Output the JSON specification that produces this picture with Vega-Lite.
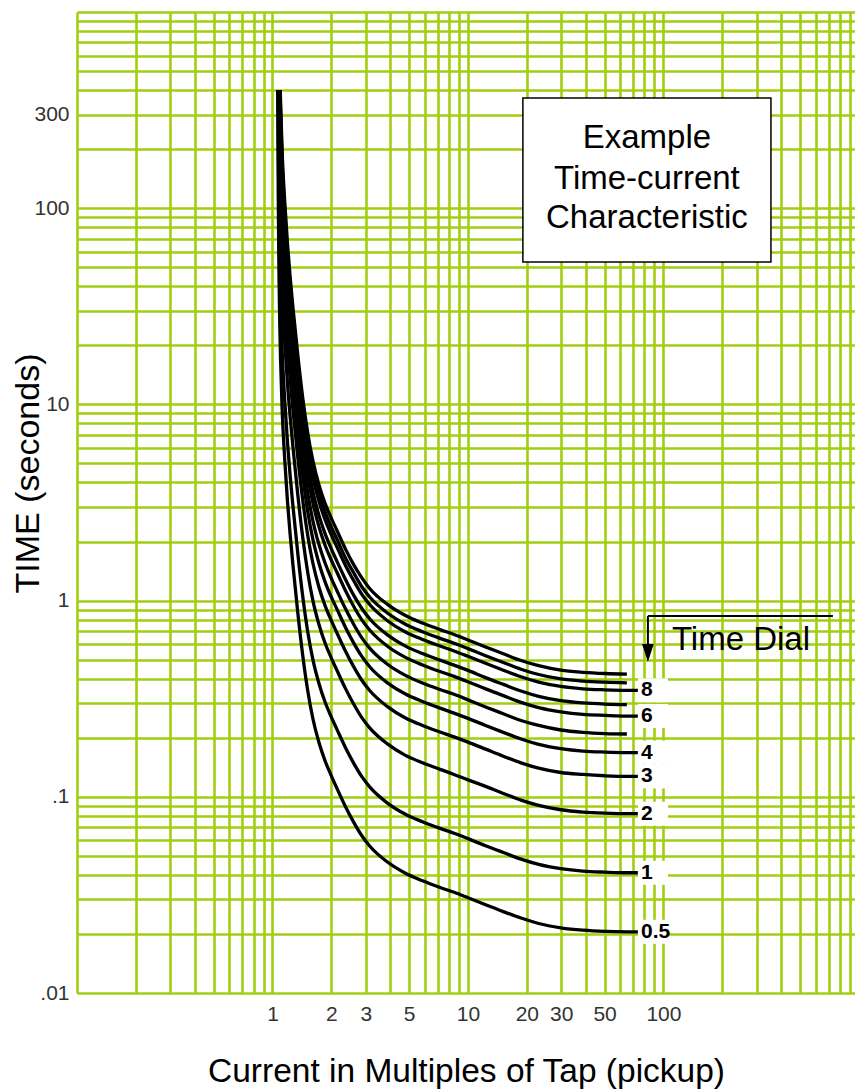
{
  "$schema": "https://vega.github.io/schema/vega-lite/v6.json",
  "width": 778,
  "height": 981,
  "autosize": {"type": "none"},
  "padding": {"left": 77, "top": 12, "right": 0, "bottom": 96},
  "background": "white",
  "config": {"view": {"stroke": null}, "font": "Liberation Sans"},
  "datasets": {
    "curves": [
      {"dial":"0.5","M":1.0643,"t":400},{"dial":"0.5","M":1.07,"t":121.5},{"dial":"0.5","M":1.08,"t":45.4},{"dial":"0.5","M":1.09,"t":25.6},{"dial":"0.5","M":1.1,"t":17.0},{"dial":"0.5","M":1.12,"t":9.55},{"dial":"0.5","M":1.156,"t":5.18},{"dial":"0.5","M":1.193,"t":3.21},{"dial":"0.5","M":1.231,"t":2.18},{"dial":"0.5","M":1.27,"t":1.55},{"dial":"0.5","M":1.348,"t":0.863},{"dial":"0.5","M":1.43,"t":0.52},{"dial":"0.5","M":1.517,"t":0.344},{"dial":"0.5","M":1.61,"t":0.25},{"dial":"0.5","M":1.729,"t":0.189},{"dial":"0.5","M":1.856,"t":0.153},{"dial":"0.5","M":1.993,"t":0.129},{"dial":"0.5","M":2.14,"t":0.11},{"dial":"0.5","M":2.357,"t":0.0895},{"dial":"0.5","M":2.597,"t":0.0745},{"dial":"0.5","M":2.859,"t":0.0635},{"dial":"0.5","M":3.15,"t":0.056},{"dial":"0.5","M":3.874,"t":0.0465},{"dial":"0.5","M":4.763,"t":0.0409},{"dial":"0.5","M":5.855,"t":0.0373},{"dial":"0.5","M":7.2,"t":0.0345},{"dial":"0.5","M":8.485,"t":0.0326},{"dial":"0.5","M":10,"t":0.0306},{"dial":"0.5","M":12.31,"t":0.0282},{"dial":"0.5","M":15.17,"t":0.026},{"dial":"0.5","M":18.68,"t":0.0241},{"dial":"0.5","M":23,"t":0.0226},{"dial":"0.5","M":29.85,"t":0.0215},{"dial":"0.5","M":38.7,"t":0.0209},{"dial":"0.5","M":50.15,"t":0.0206},{"dial":"0.5","M":65,"t":0.0205},{"dial":"0.5","M":74,"t":0.0205},
      {"dial":"1","M":1.067,"t":400},{"dial":"1","M":1.07,"t":243},{"dial":"1","M":1.08,"t":90.7},{"dial":"1","M":1.09,"t":51.1},{"dial":"1","M":1.1,"t":33.9},{"dial":"1","M":1.12,"t":19.1},{"dial":"1","M":1.156,"t":10.4},{"dial":"1","M":1.193,"t":6.42},{"dial":"1","M":1.231,"t":4.35},{"dial":"1","M":1.27,"t":3.1},{"dial":"1","M":1.348,"t":1.73},{"dial":"1","M":1.43,"t":1.04},{"dial":"1","M":1.517,"t":0.688},{"dial":"1","M":1.61,"t":0.5},{"dial":"1","M":1.729,"t":0.378},{"dial":"1","M":1.856,"t":0.305},{"dial":"1","M":1.993,"t":0.257},{"dial":"1","M":2.14,"t":0.22},{"dial":"1","M":2.357,"t":0.179},{"dial":"1","M":2.597,"t":0.149},{"dial":"1","M":2.859,"t":0.127},{"dial":"1","M":3.15,"t":0.112},{"dial":"1","M":3.874,"t":0.0929},{"dial":"1","M":4.763,"t":0.0817},{"dial":"1","M":5.855,"t":0.0746},{"dial":"1","M":7.2,"t":0.069},{"dial":"1","M":8.485,"t":0.0652},{"dial":"1","M":10,"t":0.0612},{"dial":"1","M":12.31,"t":0.0563},{"dial":"1","M":15.17,"t":0.052},{"dial":"1","M":18.68,"t":0.0481},{"dial":"1","M":23,"t":0.0452},{"dial":"1","M":29.85,"t":0.043},{"dial":"1","M":38.7,"t":0.0418},{"dial":"1","M":50.15,"t":0.0413},{"dial":"1","M":65,"t":0.041},{"dial":"1","M":74,"t":0.041},
      {"dial":"2","M":1.0715,"t":400},{"dial":"2","M":1.08,"t":181},{"dial":"2","M":1.09,"t":102},{"dial":"2","M":1.1,"t":67.8},{"dial":"2","M":1.12,"t":38.2},{"dial":"2","M":1.156,"t":20.7},{"dial":"2","M":1.193,"t":12.8},{"dial":"2","M":1.231,"t":8.7},{"dial":"2","M":1.27,"t":6.2},{"dial":"2","M":1.348,"t":3.45},{"dial":"2","M":1.43,"t":2.08},{"dial":"2","M":1.517,"t":1.38},{"dial":"2","M":1.61,"t":1.0},{"dial":"2","M":1.729,"t":0.756},{"dial":"2","M":1.856,"t":0.61},{"dial":"2","M":1.993,"t":0.514},{"dial":"2","M":2.14,"t":0.44},{"dial":"2","M":2.357,"t":0.358},{"dial":"2","M":2.597,"t":0.298},{"dial":"2","M":2.859,"t":0.254},{"dial":"2","M":3.15,"t":0.224},{"dial":"2","M":3.874,"t":0.186},{"dial":"2","M":4.763,"t":0.163},{"dial":"2","M":5.855,"t":0.149},{"dial":"2","M":7.2,"t":0.138},{"dial":"2","M":8.485,"t":0.13},{"dial":"2","M":10,"t":0.122},{"dial":"2","M":12.31,"t":0.113},{"dial":"2","M":15.17,"t":0.104},{"dial":"2","M":18.68,"t":0.0962},{"dial":"2","M":23,"t":0.0904},{"dial":"2","M":29.85,"t":0.0859},{"dial":"2","M":38.7,"t":0.0836},{"dial":"2","M":50.15,"t":0.0825},{"dial":"2","M":65,"t":0.082},{"dial":"2","M":74,"t":0.082},
      {"dial":"3","M":1.0756,"t":400},{"dial":"3","M":1.08,"t":281},{"dial":"3","M":1.09,"t":158},{"dial":"3","M":1.1,"t":105},{"dial":"3","M":1.12,"t":59.2},{"dial":"3","M":1.156,"t":32.1},{"dial":"3","M":1.193,"t":19.9},{"dial":"3","M":1.231,"t":13.5},{"dial":"3","M":1.27,"t":9.61},{"dial":"3","M":1.348,"t":5.35},{"dial":"3","M":1.43,"t":3.22},{"dial":"3","M":1.517,"t":2.13},{"dial":"3","M":1.61,"t":1.55},{"dial":"3","M":1.729,"t":1.17},{"dial":"3","M":1.856,"t":0.946},{"dial":"3","M":1.993,"t":0.797},{"dial":"3","M":2.14,"t":0.682},{"dial":"3","M":2.357,"t":0.555},{"dial":"3","M":2.597,"t":0.462},{"dial":"3","M":2.859,"t":0.394},{"dial":"3","M":3.15,"t":0.347},{"dial":"3","M":3.874,"t":0.288},{"dial":"3","M":4.763,"t":0.253},{"dial":"3","M":5.855,"t":0.231},{"dial":"3","M":7.2,"t":0.214},{"dial":"3","M":8.485,"t":0.202},{"dial":"3","M":10,"t":0.19},{"dial":"3","M":12.31,"t":0.175},{"dial":"3","M":15.17,"t":0.161},{"dial":"3","M":18.68,"t":0.149},{"dial":"3","M":23,"t":0.14},{"dial":"3","M":29.85,"t":0.133},{"dial":"3","M":38.7,"t":0.13},{"dial":"3","M":50.15,"t":0.128},{"dial":"3","M":65,"t":0.127},{"dial":"3","M":74,"t":0.127},
      {"dial":"4","M":1.079,"t":400},{"dial":"4","M":1.08,"t":372},{"dial":"4","M":1.09,"t":210},{"dial":"4","M":1.1,"t":139},{"dial":"4","M":1.12,"t":78.3},{"dial":"4","M":1.156,"t":42.5},{"dial":"4","M":1.193,"t":26.3},{"dial":"4","M":1.231,"t":17.8},{"dial":"4","M":1.27,"t":12.7},{"dial":"4","M":1.348,"t":7.07},{"dial":"4","M":1.43,"t":4.26},{"dial":"4","M":1.517,"t":2.82},{"dial":"4","M":1.61,"t":2.05},{"dial":"4","M":1.729,"t":1.55},{"dial":"4","M":1.856,"t":1.25},{"dial":"4","M":1.993,"t":1.05},{"dial":"4","M":2.14,"t":0.902},{"dial":"4","M":2.357,"t":0.734},{"dial":"4","M":2.597,"t":0.611},{"dial":"4","M":2.859,"t":0.521},{"dial":"4","M":3.15,"t":0.459},{"dial":"4","M":3.874,"t":0.381},{"dial":"4","M":4.763,"t":0.335},{"dial":"4","M":5.855,"t":0.306},{"dial":"4","M":7.2,"t":0.283},{"dial":"4","M":8.485,"t":0.267},{"dial":"4","M":10,"t":0.251},{"dial":"4","M":12.31,"t":0.231},{"dial":"4","M":15.17,"t":0.213},{"dial":"4","M":18.68,"t":0.197},{"dial":"4","M":23,"t":0.185},{"dial":"4","M":29.85,"t":0.176},{"dial":"4","M":38.7,"t":0.171},{"dial":"4","M":50.15,"t":0.169},{"dial":"4","M":65,"t":0.168},{"dial":"4","M":74,"t":0.168},
      {"dial":"5","M":1.0822,"t":400},{"dial":"5","M":1.09,"t":261},{"dial":"5","M":1.1,"t":173},{"dial":"5","M":1.12,"t":97.4},{"dial":"5","M":1.156,"t":52.8},{"dial":"5","M":1.193,"t":32.7},{"dial":"5","M":1.231,"t":22.2},{"dial":"5","M":1.27,"t":15.8},{"dial":"5","M":1.348,"t":8.8},{"dial":"5","M":1.43,"t":5.3},{"dial":"5","M":1.517,"t":3.51},{"dial":"5","M":1.61,"t":2.55},{"dial":"5","M":1.729,"t":1.93},{"dial":"5","M":1.856,"t":1.56},{"dial":"5","M":1.993,"t":1.31},{"dial":"5","M":2.14,"t":1.12},{"dial":"5","M":2.357,"t":0.913},{"dial":"5","M":2.597,"t":0.76},{"dial":"5","M":2.859,"t":0.648},{"dial":"5","M":3.15,"t":0.571},{"dial":"5","M":3.874,"t":0.474},{"dial":"5","M":4.763,"t":0.417},{"dial":"5","M":5.855,"t":0.38},{"dial":"5","M":7.2,"t":0.352},{"dial":"5","M":8.485,"t":0.333},{"dial":"5","M":10,"t":0.312},{"dial":"5","M":12.31,"t":0.287},{"dial":"5","M":15.17,"t":0.265},{"dial":"5","M":18.68,"t":0.245},{"dial":"5","M":23,"t":0.231},{"dial":"5","M":29.85,"t":0.219},{"dial":"5","M":38.7,"t":0.213},{"dial":"5","M":50.15,"t":0.21},{"dial":"5","M":65,"t":0.209},
      {"dial":"6","M":1.0858,"t":400},{"dial":"6","M":1.09,"t":322},{"dial":"6","M":1.1,"t":214},{"dial":"6","M":1.12,"t":120},{"dial":"6","M":1.156,"t":65.3},{"dial":"6","M":1.193,"t":40.4},{"dial":"6","M":1.231,"t":27.4},{"dial":"6","M":1.27,"t":19.5},{"dial":"6","M":1.348,"t":10.9},{"dial":"6","M":1.43,"t":6.55},{"dial":"6","M":1.517,"t":4.33},{"dial":"6","M":1.61,"t":3.15},{"dial":"6","M":1.729,"t":2.38},{"dial":"6","M":1.856,"t":1.92},{"dial":"6","M":1.993,"t":1.62},{"dial":"6","M":2.14,"t":1.39},{"dial":"6","M":2.357,"t":1.13},{"dial":"6","M":2.597,"t":0.939},{"dial":"6","M":2.859,"t":0.8},{"dial":"6","M":3.15,"t":0.706},{"dial":"6","M":3.874,"t":0.585},{"dial":"6","M":4.763,"t":0.515},{"dial":"6","M":5.855,"t":0.47},{"dial":"6","M":7.2,"t":0.435},{"dial":"6","M":8.485,"t":0.411},{"dial":"6","M":10,"t":0.386},{"dial":"6","M":12.31,"t":0.355},{"dial":"6","M":15.17,"t":0.328},{"dial":"6","M":18.68,"t":0.303},{"dial":"6","M":23,"t":0.285},{"dial":"6","M":29.85,"t":0.271},{"dial":"6","M":38.7,"t":0.263},{"dial":"6","M":50.15,"t":0.26},{"dial":"6","M":65,"t":0.258},{"dial":"6","M":74,"t":0.258},
      {"dial":"7","M":1.0883,"t":400},{"dial":"7","M":1.09,"t":368},{"dial":"7","M":1.1,"t":244},{"dial":"7","M":1.12,"t":138},{"dial":"7","M":1.156,"t":74.6},{"dial":"7","M":1.193,"t":46.2},{"dial":"7","M":1.231,"t":31.3},{"dial":"7","M":1.27,"t":22.3},{"dial":"7","M":1.348,"t":12.4},{"dial":"7","M":1.43,"t":7.49},{"dial":"7","M":1.517,"t":4.95},{"dial":"7","M":1.61,"t":3.6},{"dial":"7","M":1.729,"t":2.72},{"dial":"7","M":1.856,"t":2.2},{"dial":"7","M":1.993,"t":1.85},{"dial":"7","M":2.14,"t":1.58},{"dial":"7","M":2.357,"t":1.29},{"dial":"7","M":2.597,"t":1.07},{"dial":"7","M":2.859,"t":0.914},{"dial":"7","M":3.15,"t":0.806},{"dial":"7","M":3.874,"t":0.669},{"dial":"7","M":4.763,"t":0.588},{"dial":"7","M":5.855,"t":0.537},{"dial":"7","M":7.2,"t":0.497},{"dial":"7","M":8.485,"t":0.469},{"dial":"7","M":10,"t":0.441},{"dial":"7","M":12.31,"t":0.405},{"dial":"7","M":15.17,"t":0.374},{"dial":"7","M":18.68,"t":0.346},{"dial":"7","M":23,"t":0.325},{"dial":"7","M":29.85,"t":0.309},{"dial":"7","M":38.7,"t":0.301},{"dial":"7","M":50.15,"t":0.297},{"dial":"7","M":65,"t":0.295},
      {"dial":"8","M":1.0918,"t":400},{"dial":"8","M":1.1,"t":288},{"dial":"8","M":1.12,"t":162},{"dial":"8","M":1.156,"t":88.1},{"dial":"8","M":1.193,"t":54.6},{"dial":"8","M":1.231,"t":37.0},{"dial":"8","M":1.27,"t":26.4},{"dial":"8","M":1.348,"t":14.7},{"dial":"8","M":1.43,"t":8.84},{"dial":"8","M":1.517,"t":5.85},{"dial":"8","M":1.61,"t":4.25},{"dial":"8","M":1.729,"t":3.21},{"dial":"8","M":1.856,"t":2.59},{"dial":"8","M":1.993,"t":2.18},{"dial":"8","M":2.14,"t":1.87},{"dial":"8","M":2.357,"t":1.52},{"dial":"8","M":2.597,"t":1.27},{"dial":"8","M":2.859,"t":1.08},{"dial":"8","M":3.15,"t":0.952},{"dial":"8","M":3.874,"t":0.79},{"dial":"8","M":4.763,"t":0.694},{"dial":"8","M":5.855,"t":0.634},{"dial":"8","M":7.2,"t":0.587},{"dial":"8","M":8.485,"t":0.554},{"dial":"8","M":10,"t":0.52},{"dial":"8","M":12.31,"t":0.479},{"dial":"8","M":15.17,"t":0.442},{"dial":"8","M":18.68,"t":0.409},{"dial":"8","M":23,"t":0.384},{"dial":"8","M":29.85,"t":0.365},{"dial":"8","M":38.7,"t":0.355},{"dial":"8","M":50.15,"t":0.351},{"dial":"8","M":65,"t":0.349},{"dial":"8","M":74,"t":0.349},
      {"dial":"9","M":1.0939,"t":400},{"dial":"9","M":1.1,"t":315},{"dial":"9","M":1.12,"t":178},{"dial":"9","M":1.156,"t":96.3},{"dial":"9","M":1.193,"t":59.7},{"dial":"9","M":1.231,"t":40.5},{"dial":"9","M":1.27,"t":28.8},{"dial":"9","M":1.348,"t":16.0},{"dial":"9","M":1.43,"t":9.67},{"dial":"9","M":1.517,"t":6.4},{"dial":"9","M":1.61,"t":4.65},{"dial":"9","M":1.729,"t":3.52},{"dial":"9","M":1.856,"t":2.84},{"dial":"9","M":1.993,"t":2.39},{"dial":"9","M":2.14,"t":2.05},{"dial":"9","M":2.357,"t":1.66},{"dial":"9","M":2.597,"t":1.39},{"dial":"9","M":2.859,"t":1.18},{"dial":"9","M":3.15,"t":1.04},{"dial":"9","M":3.874,"t":0.864},{"dial":"9","M":4.763,"t":0.76},{"dial":"9","M":5.855,"t":0.694},{"dial":"9","M":7.2,"t":0.642},{"dial":"9","M":8.485,"t":0.606},{"dial":"9","M":10,"t":0.569},{"dial":"9","M":12.31,"t":0.524},{"dial":"9","M":15.17,"t":0.484},{"dial":"9","M":18.68,"t":0.447},{"dial":"9","M":23,"t":0.42},{"dial":"9","M":29.85,"t":0.399},{"dial":"9","M":38.7,"t":0.389},{"dial":"9","M":50.15,"t":0.384},{"dial":"9","M":65,"t":0.381},
      {"dial":"10","M":1.0964,"t":400},{"dial":"10","M":1.1,"t":349},{"dial":"10","M":1.12,"t":197},{"dial":"10","M":1.156,"t":107},{"dial":"10","M":1.193,"t":66.1},{"dial":"10","M":1.231,"t":44.8},{"dial":"10","M":1.27,"t":31.9},{"dial":"10","M":1.348,"t":17.8},{"dial":"10","M":1.43,"t":10.7},{"dial":"10","M":1.517,"t":7.09},{"dial":"10","M":1.61,"t":5.15},{"dial":"10","M":1.729,"t":3.89},{"dial":"10","M":1.856,"t":3.14},{"dial":"10","M":1.993,"t":2.65},{"dial":"10","M":2.14,"t":2.27},{"dial":"10","M":2.357,"t":1.84},{"dial":"10","M":2.597,"t":1.53},{"dial":"10","M":2.859,"t":1.31},{"dial":"10","M":3.15,"t":1.15},{"dial":"10","M":3.874,"t":0.957},{"dial":"10","M":4.763,"t":0.842},{"dial":"10","M":5.855,"t":0.768},{"dial":"10","M":7.2,"t":0.711},{"dial":"10","M":8.485,"t":0.672},{"dial":"10","M":10,"t":0.63},{"dial":"10","M":12.31,"t":0.58},{"dial":"10","M":15.17,"t":0.536},{"dial":"10","M":18.68,"t":0.495},{"dial":"10","M":23,"t":0.466},{"dial":"10","M":29.85,"t":0.442},{"dial":"10","M":38.7,"t":0.431},{"dial":"10","M":50.15,"t":0.425},{"dial":"10","M":65,"t":0.422}
    ],
    "labels": [
      {"dial":"8","t":0.349},{"dial":"6","t":0.258},{"dial":"4","t":0.168},{"dial":"3","t":0.127},{"dial":"2","t":0.082},{"dial":"1","t":0.041},{"dial":"0.5","t":0.0205}
    ],
    "boxtext": [
      {"line":"Example","t":201.7},{"line":"Time-current","t":125},{"line":"Characteristic","t":79.1}
    ]
  },
  "layer": [
    {
      "data": {"name": "curves"},
      "mark": {"type": "line", "color": "black", "strokeWidth": 3.3, "interpolate": "monotone", "clip": true},
      "encoding": {
        "x": {
          "field": "M", "type": "quantitative",
          "scale": {"type": "log", "domain": [0.1, 955], "nice": false},
          "axis": {
            "title": "Current in Multiples of Tap (pickup)",
            "values": [0.1,0.2,0.3,0.4,0.5,0.6,0.7,0.8,0.9,1,2,3,4,5,6,7,8,9,10,20,30,40,50,60,70,80,90,100,200,300,400,500,600,700,800,900],
            "format": "~g",
            "labelExpr": "indexof([1,2,3,5,10,20,30,50,100], datum.value) >= 0 ? datum.label : ''",
            "grid": true, "gridColor": "#a0ce10", "gridWidth": 2.6, "gridOpacity": 1,
            "ticks": false, "tickSize": 0, "domain": false,
            "labelFont": "Liberation Sans", "labelFontSize": 21, "labelColor": "#333", "labelPadding": 10,
            "labelOverlap": false, "labelFlush": false, "labelBound": false,
            "titleFont": "Liberation Sans", "titleFontSize": 33.5, "titleFontWeight": "normal", "titleColor": "black",
            "titleBaseline": "alphabetic", "titleY": 88
          }
        },
        "y": {
          "field": "t", "type": "quantitative",
          "scale": {"type": "log", "domain": [0.01, 1000], "nice": false},
          "axis": {
            "title": "TIME (seconds)",
            "values": [0.01,0.02,0.03,0.04,0.05,0.06,0.07,0.08,0.09,0.1,0.2,0.3,0.4,0.5,0.6,0.7,0.8,0.9,1,2,3,4,5,6,7,8,9,10,20,30,40,50,60,70,80,90,100,200,300,400,500,600,700,800,900,1000],
            "format": "~g",
            "labelExpr": "datum.value == 0.1 ? '.1' : datum.value == 0.01 ? '.01' : (indexof([1,10,100,300], datum.value) >= 0 ? datum.label : '')",
            "grid": true, "gridColor": "#a0ce10", "gridWidth": 2.6, "gridOpacity": 1,
            "ticks": false, "tickSize": 0, "domain": false,
            "labelFont": "Liberation Sans", "labelFontSize": 21, "labelColor": "#333", "labelPadding": 8,
            "labelOverlap": false, "labelFlush": false, "labelBound": false,
            "titleFont": "Liberation Sans", "titleFontSize": 34, "titleFontWeight": "normal", "titleColor": "black",
            "titleAngle": 270, "titleBaseline": "middle", "titleAlign": "center", "titleX": -49, "titleY": 461
          }
        },
        "detail": {"field": "dial"}
      }
    },
    {
      "data": {"name": "labels"},
      "mark": {"type": "point", "shape": "M-1.25,-1L1.25,-1L1.25,1L-1.25,1Z", "size": 576, "filled": true, "color": "white", "opacity": 1},
      "encoding": {
        "x": {"datum": 88.4},
        "y": {"field": "t", "type": "quantitative"}
      }
    },
    {
      "data": {"name": "labels"},
      "mark": {"type": "text", "align": "left", "baseline": "middle", "fontSize": 21, "fontWeight": "bold", "color": "black", "font": "Liberation Sans"},
      "encoding": {
        "x": {"datum": 76.8},
        "y": {"field": "t", "type": "quantitative"},
        "text": {"field": "dial"}
      }
    },
    {
      "data": {"values": [{}]},
      "mark": {"type": "rect", "fill": "white", "stroke": "black", "strokeWidth": 1.5},
      "encoding": {
        "x": {"datum": 19.1}, "x2": {"datum": 354.8},
        "y": {"datum": 364.6}, "y2": {"datum": 53.2}
      }
    },
    {
      "data": {"name": "boxtext"},
      "mark": {"type": "text", "align": "center", "baseline": "alphabetic", "fontSize": 33, "color": "black", "font": "Liberation Sans"},
      "encoding": {
        "x": {"datum": 82.3},
        "y": {"field": "t", "type": "quantitative"},
        "text": {"field": "line"}
      }
    },
    {
      "data": {"values": [{}]},
      "mark": {"type": "rule", "color": "black", "strokeWidth": 2},
      "encoding": {
        "x": {"datum": 83.3}, "x2": {"datum": 736},
        "y": {"datum": 0.835}
      }
    },
    {
      "data": {"values": [{}]},
      "mark": {"type": "rule", "color": "black", "strokeWidth": 2},
      "encoding": {
        "x": {"datum": 83.3},
        "y": {"datum": 0.835}, "y2": {"datum": 0.56}
      }
    },
    {
      "data": {"values": [{}]},
      "mark": {"type": "point", "shape": "M-0.65,-1L0.65,-1L0,1Z", "size": 324, "filled": true, "color": "black", "opacity": 1},
      "encoding": {
        "x": {"datum": 83.3},
        "y": {"datum": 0.541}
      }
    },
    {
      "data": {"values": [{}]},
      "mark": {"type": "text", "text": "Time Dial", "align": "left", "baseline": "alphabetic", "fontSize": 33, "color": "black", "font": "Liberation Sans"},
      "encoding": {
        "x": {"datum": 110.5},
        "y": {"datum": 0.56}
      }
    }
  ]
}
